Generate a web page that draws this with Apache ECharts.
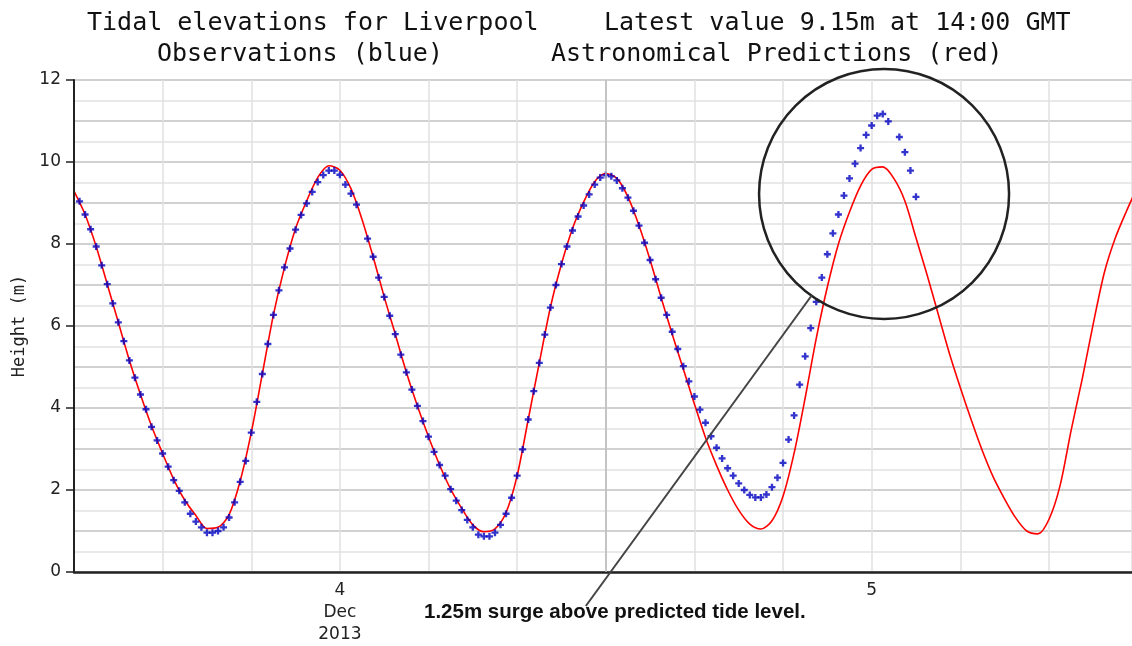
<!DOCTYPE html>
<html>
<head>
<meta charset="utf-8">
<title>Tidal elevations for Liverpool</title>
<script src="https://cdn.jsdelivr.net/npm/echarts@6/dist/echarts.min.js"></script>
<style>
  html, body { margin: 0; padding: 0; background: #fff; }
  #chart { width: 1132px; height: 646px; }
</style>
</head>
<body>
<div id="chart"></div>
<script>
// x values are hours since 2013-12-04 00:00 GMT
// observations every 15 minutes (null = missing reading)
var obsStart = 0.25
var obsStep = 0.25
var obsHeights = [
  9.04, 8.72, 8.36, 7.94, 7.48, 7.02, 6.55, 6.09, 5.63, 5.16,
  4.74, 4.33, 3.97, 3.54, 3.21, 2.89, 2.57, 2.24, 1.98, 1.70,
  1.42, 1.23, 1.09, 0.96, 0.96, 1.00, 1.09, 1.33, 1.70, 2.20,
  2.71, 3.40, 4.15, 4.83, 5.56, 6.27, 6.87, 7.43, 7.89, 8.35,
  8.71, 8.99, 9.27, 9.51, 9.68, 9.79, 9.79, 9.69, 9.45, 9.23,
  8.96, null, 8.13, 7.69, 7.18, 6.71, 6.25, 5.80, 5.30, 4.87,
  4.45, 4.05, 3.68, 3.30, 2.93, 2.61, 2.35, 2.02, 1.74, 1.51,
  1.27, 1.09, 0.91, 0.87, 0.87, 0.96, 1.15, 1.42, 1.81, 2.35,
  2.99, 3.72, 4.41, 5.10, 5.79, 6.45, 7.00, 7.51, 7.94, 8.33,
  8.67, 8.94, 9.21, 9.45, 9.62, 9.68, 9.65, 9.55, 9.36, 9.13,
  8.81, 8.45, 8.03, 7.61, 7.14, 6.69, 6.27, 5.86, 5.44, 5.02,
  4.65, 4.28, 3.96, 3.64, 3.31, 3.03, 2.77, 2.53, 2.35, 2.16,
  2.00, 1.88, 1.82, 1.82, 1.89, 2.07, 2.30, 2.66, 3.23, 3.82,
  4.57, 5.26, 5.95, 6.59, 7.18, 7.75, 8.26, 8.72, 9.18, 9.60,
  9.96, 10.34, 10.66, 10.89, 11.13, 11.17, 10.99, null, 10.61, 10.24,
  9.79, 9.15
]

// astronomical predictions every 30 minutes
var predStart = 0
var predStep = 0.5
var predHeights = [
  9.29, 8.72, 7.94, 7.02, 6.09, 5.16, 4.33, 3.56, 2.89, 2.26,
  1.75, 1.38, 1.06, 1.09, 1.40, 2.22, 3.40, 4.83, 6.27, 7.43,
  8.38, 9.05, 9.62, 9.91, 9.80, 9.35, 8.60, 7.69, 6.71, 5.80,
  4.87, 4.05, 3.30, 2.61, 2.02, 1.55, 1.15, 0.98, 1.05, 1.45,
  2.35, 3.72, 5.10, 6.45, 7.51, 8.38, 9.02, 9.52, 9.72, 9.60,
  9.15, 8.45, 7.61, 6.69, 5.80, 4.95, 4.10, 3.28, 2.60, 2.00,
  1.51, 1.17, 1.05, 1.25, 1.85, 2.90, 4.25, 5.70, 6.95, 8.00,
  8.78, 9.42, 9.82, 9.88, 9.60, 9.05, 8.15, 7.25, 6.30, 5.35,
  4.50, 3.70, 2.95, 2.30, 1.78, 1.32, 1.00, 0.93, 1.28, 2.10,
  3.45, 4.70, 6.05, 7.30, 8.15, 8.80, 9.40
]

var dayTicks = [12, 36]
var dayLabels = ['4\nDec\n2013', '5']
var midnightTick = 24

// annotation anchors in data units [hours, metres]
var surgeCircleCentre = [36.56, 9.22]
var surgeLineFrom = [23.1, -0.83]
var surgeLineTo = [33.3, 6.75]

function toPoints(start, step, values) {
  return values.map(function (v, i) { return [start + i * step, v] })
}

var mono = 'DejaVu Sans Mono'
var sans = 'DejaVu Sans'
var titleStyle = { fontFamily: mono, fontSize: 25, fontWeight: 'normal', color: '#111' }

var chart = echarts.init(document.getElementById('chart'))

var option = {
  animation: false,
  backgroundColor: '#fff',
  title: [
    { text: 'Tidal elevations for Liverpool', left: 87, top: 11, padding: 0, textStyle: titleStyle },
    { text: 'Latest value 9.15m at 14:00 GMT', left: 604, top: 11, padding: 0, textStyle: titleStyle },
    { text: 'Observations (blue)', left: 157, top: 42, padding: 0, textStyle: titleStyle },
    { text: 'Astronomical Predictions (red)', left: 551, top: 42, padding: 0, textStyle: titleStyle }
  ],
  grid: { left: 74, top: 80, right: 0, bottom: 72 },
  xAxis: {
    type: 'value',
    min: 0,
    max: 47.75,
    interval: 4,
    axisLine: { lineStyle: { color: '#222', width: 2.5 } },
    axisTick: { show: false },
    axisLabel: {
      margin: 8,
      fontFamily: sans,
      fontSize: 17,
      lineHeight: 22,
      color: '#222',
      showMaxLabel: false,
      formatter: function (v) {
        var k = dayTicks.indexOf(v)
        return k >= 0 ? dayLabels[k] : ''
      }
    },
    splitLine: { show: true, lineStyle: { color: '#e0e0e0', width: 1.5 } }
  },
  yAxis: [
    {
      type: 'value',
      min: 0,
      max: 12,
      interval: 2,
      name: 'Height (m)',
      nameLocation: 'middle',
      nameGap: 45,
      nameRotate: 90,
      nameTextStyle: { fontFamily: mono, fontSize: 17, color: '#222' },
      axisLine: { show: true, lineStyle: { color: '#222', width: 2 } },
      axisTick: { show: true, length: 8, lineStyle: { color: '#222', width: 1.5 } },
      axisLabel: { margin: 13, fontFamily: sans, fontSize: 17, color: '#222' },
      splitLine: { show: false },
      z: 5
    },
    {
      type: 'value',
      min: 0,
      max: 12,
      interval: 1,
      position: 'right',
      axisLine: { show: false },
      axisTick: { show: false },
      axisLabel: { show: false },
      splitLine: { show: true, lineStyle: { color: '#c2c2c2', width: 1.5 } },
      minorTick: { show: false, splitNumber: 2 },
      minorSplitLine: { show: true, lineStyle: { color: '#e2e2e2', width: 1.5 } }
    }
  ],
  series: [
    {
      // midnight divider
      type: 'line',
      data: [],
      z: 1,
      silent: true,
      markLine: {
        silent: true,
        symbol: ['none', 'none'],
        label: { show: false },
        lineStyle: { color: '#b8b8b8', type: 'solid', width: 1.5 },
        data: [{ xAxis: midnightTick }]
      }
    },
    {
      name: 'Astronomical Predictions',
      type: 'line',
      data: toPoints(predStart, predStep, predHeights),
      smooth: 0.3,
      showSymbol: false,
      clip: true,
      z: 3,
      lineStyle: { color: '#ff0000', width: 1.6 }
    },
    {
      name: 'Observations',
      type: 'scatter',
      data: toPoints(obsStart, obsStep, obsHeights).filter(function (p) { return p[1] !== null }),
      symbol: 'path://M2,0H4V2H6V4H4V6H2V4H0V2H2Z',
      symbolSize: 7,
      z: 4,
      itemStyle: { color: '#0000c0' }
    }
  ]
}

chart.setOption(option)

// annotation: circle round the surge peak, pointer line and note
var c = chart.convertToPixel({ gridIndex: 0 }, surgeCircleCentre)
var p1 = chart.convertToPixel({ gridIndex: 0 }, surgeLineFrom)
var p2 = chart.convertToPixel({ gridIndex: 0 }, surgeLineTo)

chart.setOption({
  graphic: [
    {
      type: 'circle',
      shape: { cx: c[0], cy: c[1], r: 125 },
      style: { fill: 'none', stroke: '#222', lineWidth: 2.5 },
      z: 10
    },
    {
      type: 'line',
      shape: { x1: p1[0], y1: p1[1], x2: p2[0], y2: p2[1] },
      style: { stroke: '#444', lineWidth: 2 },
      z: 10
    },
    {
      type: 'text',
      left: 424,
      top: 602,
      style: {
        text: '1.25m surge above predicted tide level.',
        font: 'bold 20.5px "Liberation Sans Narrow", "Liberation Sans", sans-serif',
        fill: '#111'
      },
      z: 10
    }
  ]
})
</script>
</body>
</html>
